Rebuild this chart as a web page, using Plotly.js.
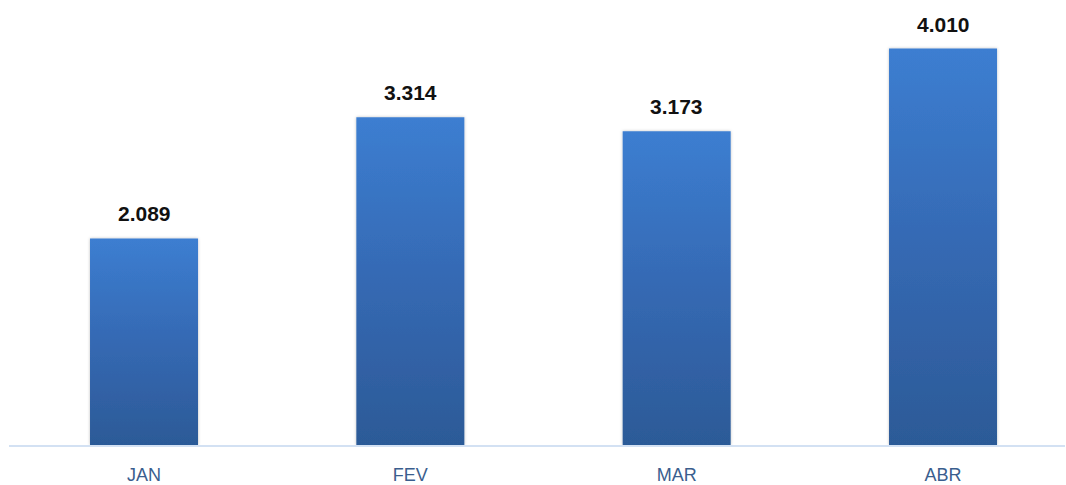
<!DOCTYPE html>
<html>
<head>
<meta charset="utf-8">
<script src="https://cdn.plot.ly/plotly-3.0.1.min.js"></script>
<style>
html,body{margin:0;padding:0;background:#fff;}
#chart{width:1066px;height:485px;}
</style>
</head>
<body>
<div id="chart"></div>
<script>
const months = ["JAN", "FEV", "MAR", "ABR"];
const values = [2089, 3314, 3173, 4010];

const labelFont = "Liberation Sans, Arial, sans-serif";

const annotations = months.map((m, i) => ({
  x: m,
  y: values[i],
  xref: "x",
  yref: "y",
  text: "<b>" + values[i].toLocaleString("pt-BR") + "</b>",
  showarrow: false,
  yanchor: "bottom",
  yshift: 11,
  font: {family: labelFont, size: 21, color: "#111111"}
}));

const trace = {
  type: "bar",
  x: months,
  y: values,
  marker: {color: "#3569b3", line: {width: 0}},
  hoverinfo: "none"
};

const layout = {
  width: 1066,
  height: 485,
  margin: {l: 9, r: 1, t: 10, b: 40},
  paper_bgcolor: "#ffffff",
  plot_bgcolor: "#ffffff",
  bargap: 0.5945,
  showlegend: false,
  separators: ",.",
  xaxis: {
    type: "category",
    range: [-0.5069, 3.458],
    showline: true,
    linecolor: "#d3e1f3",
    linewidth: 2,
    showgrid: false,
    zeroline: false,
    automargin: false,
    ticks: "outside",
    ticklen: 12,
    tickcolor: "rgba(0,0,0,0)",
    tickfont: {family: labelFont, size: 18, color: "#3a5e8e"}
  },
  yaxis: {
    range: [0, 4400],
    visible: false,
    showgrid: false,
    zeroline: false
  },
  annotations: annotations
};

Plotly.newPlot("chart", [trace], layout, {displayModeBar: false, staticPlot: true}).then(gd => {
  const svg = gd.querySelector("svg.main-svg");
  const ns = "http://www.w3.org/2000/svg";
  let defs = svg.querySelector("defs");
  if (!defs) { defs = document.createElementNS(ns, "defs"); svg.insertBefore(defs, svg.firstChild); }
  const grad = document.createElementNS(ns, "linearGradient");
  grad.setAttribute("id", "barGrad");
  grad.setAttribute("x1", "0"); grad.setAttribute("y1", "0");
  grad.setAttribute("x2", "0"); grad.setAttribute("y2", "1");
  [["0%", "#3c7ed1"], ["50%", "#3569b3"], ["100%", "#2c5a97"]].forEach(([o, c]) => {
    const s = document.createElementNS(ns, "stop");
    s.setAttribute("offset", o); s.setAttribute("stop-color", c);
    grad.appendChild(s);
  });
  defs.appendChild(grad);
  const filt = document.createElementNS(ns, "filter");
  filt.setAttribute("id", "barShadow");
  filt.setAttribute("x", "-10%"); filt.setAttribute("y", "-10%");
  filt.setAttribute("width", "120%"); filt.setAttribute("height", "120%");
  const ds = document.createElementNS(ns, "feDropShadow");
  ds.setAttribute("dx", "0"); ds.setAttribute("dy", "0");
  ds.setAttribute("stdDeviation", "1.5");
  ds.setAttribute("flood-color", "#000000");
  ds.setAttribute("flood-opacity", "0.25");
  filt.appendChild(ds);
  defs.appendChild(filt);
  gd.querySelectorAll(".trace.bars .point path").forEach(p => {
    p.style.fill = "url(#barGrad)";
    p.setAttribute("filter", "url(#barShadow)");
  });
});
</script>
</body>
</html>
